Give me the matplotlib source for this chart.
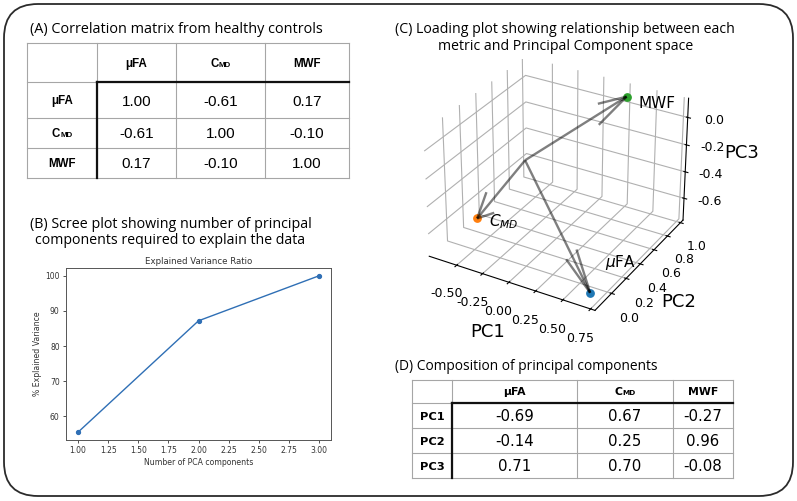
import matplotlib
matplotlib.use('Agg')
import matplotlib.pyplot as plt
from matplotlib.patches import FancyBboxPatch
from matplotlib.transforms import offset_copy
from matplotlib.ticker import FormatStrFormatter

plt.rcParams['axes3d.automargin'] = True

# ---------------- data ----------------
metrics = ['μFA', 'C_MD', 'MWF']
corr_matrix = [[1.00, -0.61, 0.17],
               [-0.61, 1.00, -0.10],
               [0.17, -0.10, 1.00]]
pc_names = ['PC1', 'PC2', 'PC3']
composition = [[-0.69, 0.67, -0.27],
               [-0.14, 0.25, 0.96],
               [0.71, 0.70, -0.08]]
n_components = [1, 2, 3]
explained_pct = [55.5, 87.2, 100.0]
# loading-plot coordinates as drawn (μFA, C_MD, MWF)
load_pc1 = [0.69, -0.67, 0.27]
load_pc2 = [-0.14, 0.25, 0.96]
load_pc3 = [-0.71, -0.70, 0.08]
point_labels = [r'$\mu$FA', r'$C_{MD}$', 'MWF']
point_colors = ['#1f77b4', '#ff7f0e', '#2ca02c']
pc1_ticks = [-0.50, -0.25, 0.00, 0.25, 0.50, 0.75]
pc2_ticks = [0.0, 0.2, 0.4, 0.6, 0.8, 1.0]
pc3_ticks = [-0.6, -0.4, -0.2, 0.0]

W, H = 797, 501
fig = plt.figure(figsize=(W / 100, H / 100), dpi=100)
renderer = fig.canvas.get_renderer()

# overlay in pixel coordinates
ov = fig.add_axes([0, 0, 1, 1])
ov.set_xlim(0, W)
ov.set_ylim(H, 0)
ov.axis('off')
for t in (ov.title, ov._left_title, ov._right_title):
    t.set_visible(False)

border = FancyBboxPatch((4, 4), 789, 492, boxstyle='round,pad=0,rounding_size=34',
                        fc='none', ec='#2b2b2b', lw=1.3)
ov.add_patch(border)

TITLE_FONT = 'Open Sans'


def fit_text(x, y, s, width, **kw):
    t = ov.text(x, y, s, fontsize=10, va='baseline', **kw)
    bb = t.get_window_extent(renderer)
    t.set_fontsize(10 * width / bb.width)
    return t


fit_text(30, 33, '(A) Correlation matrix from healthy controls', 292, family=TITLE_FONT)
fit_text(30, 228, '(B) Scree plot showing number of principal', 281, family=TITLE_FONT)
fit_text(35, 244, 'components required to explain the data', 270, family=TITLE_FONT)
fit_text(395, 33, '(C) Loading plot showing relationship between each', 340, family=TITLE_FONT)
fit_text(438, 50, 'metric and Principal Component space', 254, family=TITLE_FONT)
fit_text(395, 370, '(D) Composition of principal components', 263, family=TITLE_FONT)


def px(pt):
    return pt * 100 / 72


def header_text(xc, cy, name, size, family):
    base = cy + 0.36 * px(size)
    if name == 'C_MD':
        t1 = ov.text(xc, base, 'C', fontsize=size, family=family, weight='bold',
                     ha='left', va='baseline')
        t2 = ov.text(xc, base, 'MD', fontsize=size * 0.68, family=family, weight='bold',
                     ha='left', va='baseline')
        w1 = t1.get_window_extent(renderer).width
        w2 = t2.get_window_extent(renderer).width
        x0 = xc - (w1 + w2) / 2
        t1.set_x(x0)
        t2.set_x(x0 + w1)
    else:
        ov.text(xc, base, name, fontsize=size, family=family, weight='bold',
                ha='center', va='baseline')


def draw_table(cols, rows, col_labels, row_labels, values, hsize, vsize, hfamily, vfamily,
               rsize=None):
    rsize = rsize or hsize
    gray = '#a6a6a6'
    x0, x1 = cols[0], cols[-1]
    y0, y1 = rows[0], rows[-1]
    for x in cols:
        ov.plot([x, x], [y0, y1], color=gray, lw=0.8, zorder=1)
    for y in rows:
        ov.plot([x0, x1], [y, y], color=gray, lw=0.8, zorder=1)
    ov.plot([cols[1], x1], [rows[1], rows[1]], color='#111111', lw=1.6, zorder=2)
    ov.plot([cols[1], cols[1]], [rows[1], y1], color='#111111', lw=1.6, zorder=2)
    for j, lab in enumerate(col_labels):
        header_text((cols[j + 1] + cols[j + 2]) / 2, (rows[0] + rows[1]) / 2, lab, hsize, hfamily)
    for i, lab in enumerate(row_labels):
        header_text((cols[0] + cols[1]) / 2, (rows[i + 1] + rows[i + 2]) / 2, lab, rsize, hfamily)
        for j in range(len(col_labels)):
            cy = (rows[i + 1] + rows[i + 2]) / 2
            ov.text((cols[j + 1] + cols[j + 2]) / 2, cy + 0.36 * px(vsize), f'{values[i][j]:.2f}',
                    fontsize=vsize, family=vfamily, ha='center', va='baseline')


draw_table([27, 97, 176, 265, 349], [43, 82, 118, 148, 178], metrics, metrics, corr_matrix,
           8.3, 11, 'Liberation Sans', 'Liberation Sans')
draw_table([412, 452, 577, 673, 733], [380, 403, 428, 453, 478], metrics, pc_names, composition,
           7.8, 10.8, 'DejaVu Sans', 'DejaVu Sans', rsize=8.2)

# ---------------- scree plot ----------------
axb = fig.add_axes([66 / W, (H - 440) / H, (331 - 66) / W, (440 - 268) / H])
axb.plot(n_components, explained_pct, color='#2f6fb5', lw=1.0, marker='o', ms=2.8)
axb.set_title('Explained Variance Ratio', fontsize=6.2, pad=3, color='#333333')
axb.set_xlabel('Number of PCA components', fontsize=5.6, labelpad=2, color='#333333')
axb.set_ylabel('% Explained Variance', fontsize=5.6, labelpad=2, color='#333333')
axb.tick_params(labelsize=5.5, length=2.5, width=0.6, pad=2, colors='#333333')
for sp in axb.spines.values():
    sp.set_linewidth(0.7)
    sp.set_color('#555555')
axb.set_xticks([1.0, 1.25, 1.5, 1.75, 2.0, 2.25, 2.5, 2.75, 3.0])
axb.xaxis.set_major_formatter(FormatStrFormatter('%.2f'))

# ---------------- 3D loading plot ----------------
S3 = 295
ax3 = fig.add_axes([407 / W, (H - 34 - S3) / H, S3 / W, S3 / H], projection='3d')
ax3.patch.set_alpha(0)
for i in range(3):
    ax3.quiver(0, 0, 0, load_pc1[i], load_pc2[i], load_pc3[i], color='k', alpha=0.5, lw=1.7)
    ax3.scatter(load_pc1[i], load_pc2[i], load_pc3[i], color=point_colors[i], s=28,
                depthshade=False)
offsets = [(0.15, 0.30), (0.12, -0.03), (0.12, -0.07)]
for i in range(3):
    tr = offset_copy(ax3.transData, fig=fig, x=offsets[i][0], y=offsets[i][1], units='inches')
    t = ax3.text(load_pc1[i], load_pc2[i], load_pc3[i], point_labels[i], fontsize=11,
                 ha='left', va='center')
    t.set_transform(tr)
ax3.set_xticks(pc1_ticks)
ax3.set_yticks(pc2_ticks)
ax3.set_zticks(pc3_ticks)
ax3.xaxis.set_major_formatter(FormatStrFormatter('%.2f'))
ax3.yaxis.set_major_formatter(FormatStrFormatter('%.1f'))
ax3.zaxis.set_major_formatter(FormatStrFormatter('%.1f'))
ax3.set_xlabel('PC1', fontsize=13)
ax3.set_ylabel('PC2', fontsize=13)
ax3.set_zlabel('PC3', fontsize=13)
ax3.tick_params(labelsize=9)
for a in (ax3.xaxis, ax3.yaxis, ax3.zaxis):
    a.set_pane_color((1, 1, 1, 0))
    a.offsetText.set_visible(False)
ax3.zaxis.set_ticks_position('upper')
ax3.zaxis.set_label_position('upper')
for t in (ax3.title, ax3._left_title, ax3._right_title):
    t.set_visible(False)

fig.savefig('out.png', dpi=100)
